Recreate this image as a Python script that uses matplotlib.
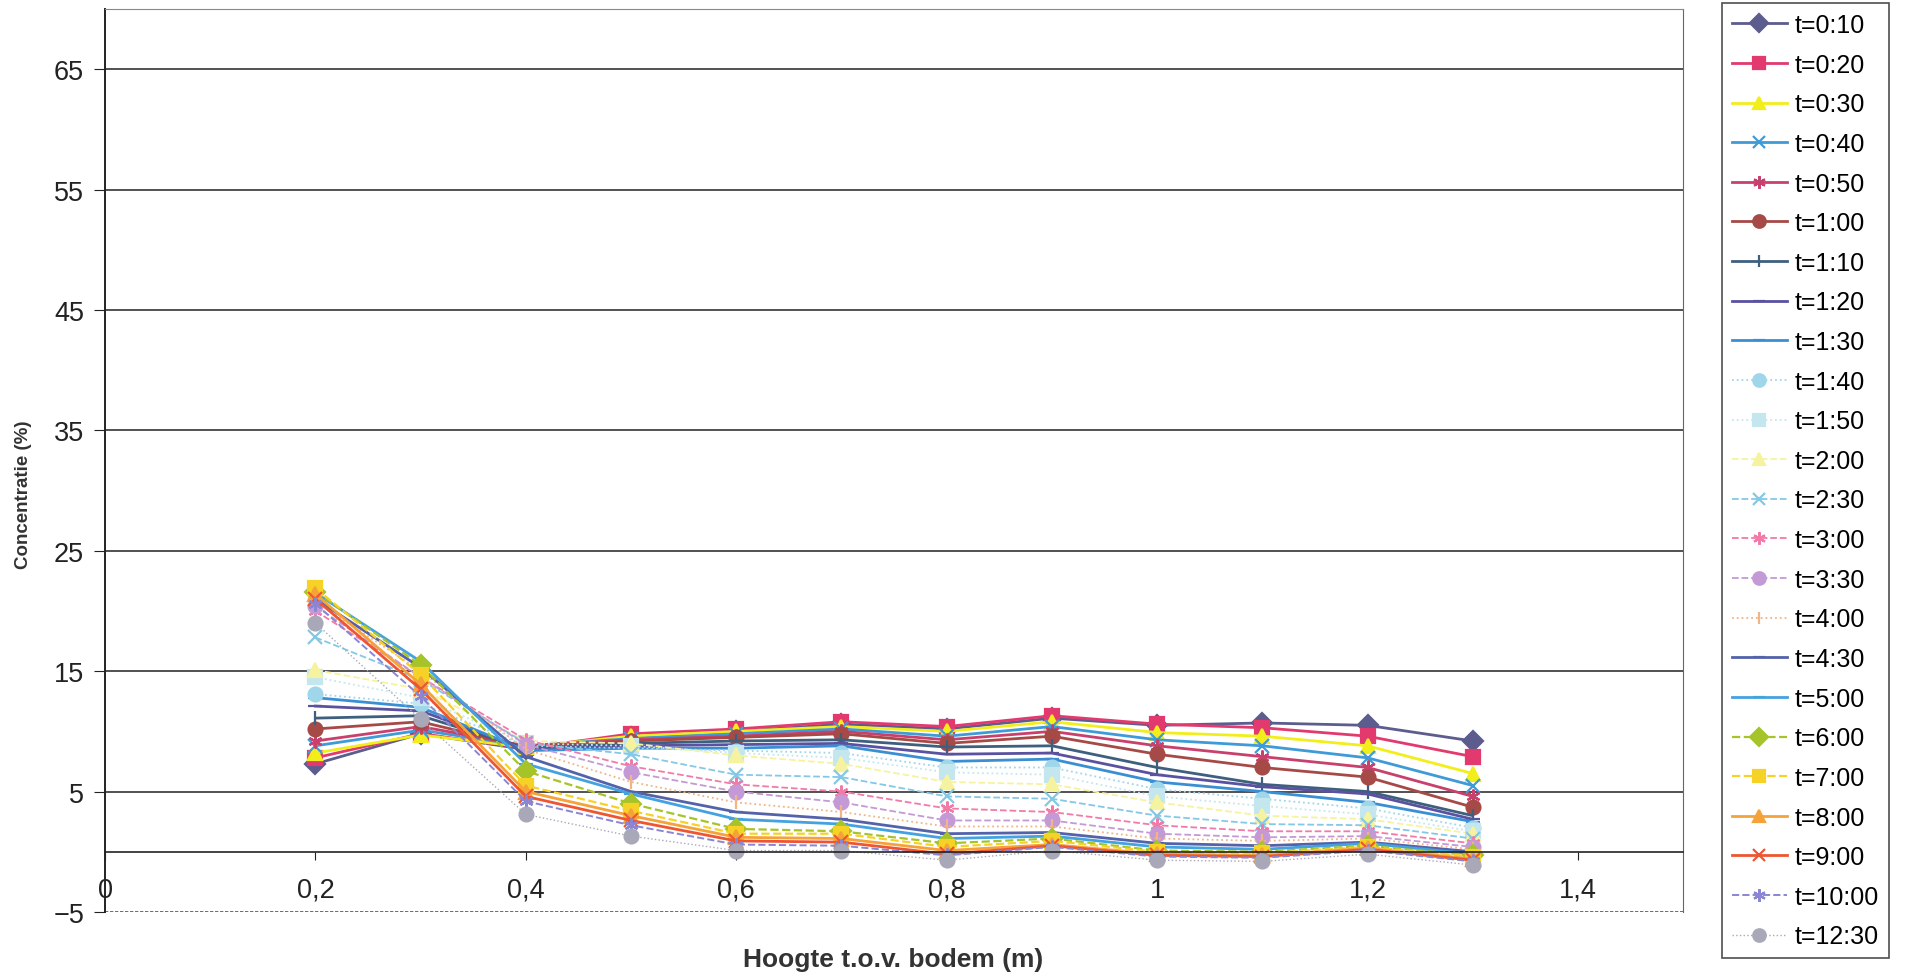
import matplotlib
matplotlib.use("Agg")
import matplotlib.pyplot as plt

plt.rcParams['font.family'] = ['Liberation Sans', 'DejaVu Sans']

# hoogte t.o.v. bodem (m)
hoogte = [0.2, 0.3, 0.4, 0.5, 0.6, 0.7, 0.8, 0.9, 1.0, 1.1, 1.2, 1.3]

tijden = ['t=0:10', 't=0:20', 't=0:30', 't=0:40', 't=0:50', 't=1:00',
          't=1:10', 't=1:20', 't=1:30', 't=1:40', 't=1:50', 't=2:00',
          't=2:30', 't=3:00', 't=3:30', 't=4:00', 't=4:30', 't=5:00',
          't=6:00', 't=7:00', 't=8:00', 't=9:00', 't=10:00', 't=12:30']

# concentratie (%) per tijdstip
c_0010 = [7.3, 9.8, 8.5, 9.5, 10.0, 10.6, 10.2, 11.1, 10.5, 10.7, 10.5, 9.2]
c_0020 = [7.8, 9.8, 8.6, 9.8, 10.2, 10.8, 10.4, 11.3, 10.6, 10.3, 9.6, 7.9]
c_0030 = [8.2, 9.7, 8.7, 9.6, 10.0, 10.4, 10.0, 10.8, 9.9, 9.6, 8.8, 6.5]
c_0040 = [8.8, 10.1, 8.8, 9.4, 9.8, 10.2, 9.6, 10.4, 9.3, 8.8, 7.8, 5.5]
c_0050 = [9.2, 10.4, 8.8, 9.3, 9.6, 10.0, 9.3, 10.0, 8.8, 7.9, 7.0, 4.6]
c_0100 = [10.2, 10.8, 8.7, 9.2, 9.5, 9.8, 9.0, 9.6, 8.1, 7.0, 6.2, 3.7]
c_0110 = [11.1, 11.3, 8.6, 9.0, 9.2, 9.3, 8.7, 8.8, 7.0, 5.6, 5.0, 3.0]
c_0120 = [12.1, 11.7, 8.5, 8.8, 8.9, 9.0, 8.1, 8.2, 6.4, 5.4, 4.8, 2.7]
c_0130 = [12.8, 12.0, 8.4, 8.6, 8.6, 8.8, 7.5, 7.7, 5.8, 5.0, 4.1, 2.5]
c_0140 = [13.1, 12.3, 8.8, 8.6, 8.4, 8.2, 7.0, 7.0, 5.2, 4.4, 3.6, 2.0]
c_0150 = [14.5, 12.8, 9.0, 8.8, 8.2, 7.8, 6.6, 6.4, 4.6, 3.8, 3.1, 1.7]
c_0200 = [15.1, 13.5, 9.2, 9.0, 8.0, 7.3, 5.8, 5.6, 4.1, 3.0, 2.7, 1.5]
c_0230 = [17.8, 14.3, 9.0, 8.1, 6.4, 6.2, 4.6, 4.4, 3.0, 2.3, 2.2, 1.1]
c_0300 = [20.0, 14.5, 9.3, 7.1, 5.6, 5.0, 3.6, 3.3, 2.2, 1.7, 1.7, 0.7]
c_0330 = [20.4, 14.5, 8.9, 6.6, 5.0, 4.1, 2.6, 2.6, 1.5, 1.2, 1.3, 0.4]
c_0400 = [20.8, 15.0, 8.5, 5.8, 4.1, 3.3, 2.1, 2.1, 1.1, 0.9, 1.1, 0.2]
c_0430 = [21.0, 15.3, 7.9, 5.0, 3.3, 2.7, 1.5, 1.6, 0.7, 0.5, 0.8, 0.0]
c_0500 = [21.5, 15.8, 7.3, 4.8, 2.7, 2.3, 1.1, 1.3, 0.4, 0.2, 0.7, -0.2]
c_0600 = [21.6, 15.5, 6.7, 4.0, 1.9, 1.7, 0.7, 1.1, 0.1, 0.0, 0.5, -0.3]
c_0700 = [21.9, 14.7, 5.5, 3.4, 1.5, 1.5, 0.4, 0.9, 0.0, -0.1, 0.4, -0.4]
c_0800 = [21.4, 13.9, 5.0, 3.0, 1.2, 1.1, 0.1, 0.6, -0.2, -0.3, 0.3, -0.6]
c_0900 = [21.0, 13.5, 4.6, 2.6, 0.9, 0.8, -0.2, 0.5, -0.3, -0.4, 0.2, -0.7]
c_1000 = [20.6, 12.9, 4.2, 2.2, 0.6, 0.5, -0.3, 0.4, -0.4, -0.5, 0.1, -0.8]
c_1230 = [19.0, 11.0, 3.1, 1.3, 0.1, 0.1, -0.7, 0.1, -0.7, -0.8, -0.2, -1.1]

reeksen = [c_0010, c_0020, c_0030, c_0040, c_0050, c_0100, c_0110, c_0120,
           c_0130, c_0140, c_0150, c_0200, c_0230, c_0300, c_0330, c_0400,
           c_0430, c_0500, c_0600, c_0700, c_0800, c_0900, c_1000, c_1230]

kleuren = ['#5c5c8e', '#e23a6e', '#f2ee1c', '#3f9ad8', '#c8406c', '#a54a46',
           '#3e5f7e', '#5a52a0', '#3a8fd4', '#9fd6ea', '#c4e6ef', '#f6f3a0',
           '#84c8e6', '#f27aa8', '#c49ad6', '#f0b486', '#5462aa', '#44a2e0',
           '#a6c42a', '#f6d226', '#f6a23a', '#ee5632', '#8a86d4', '#a8a8b8']

asterisk = (6, 2, 0)
markers = ['D', 's', '^', 'x', asterisk, 'o', '|', '_', '_', 'o', 's', '^',
           'x', asterisk, 'o', '|', '_', '_', 'D', 's', '^', 'x', asterisk, 'o']

stijlen = ['-'] * 9 + [':', ':', '--', '--', '--', '--', ':', '-', '-',
                       '--', '--', '-', '-', '--', ':']
dikte = [2.0] * 9 + [1.3] * 7 + [2.0, 2.0, 1.6, 1.6, 2.0, 2.0, 1.4, 1.0]

fig = plt.figure(figsize=(19.06, 9.78), dpi=100)
ax = fig.add_axes([0.0551, 0.0665, 0.828, 0.9233])

for waarden, naam, kl, mk, ls, lw in zip(reeksen, tijden, kleuren, markers, stijlen, dikte):
    ax.plot(hoogte, waarden, linestyle=ls, linewidth=lw, color=kl, marker=mk,
            markersize=10, markeredgewidth=1.6, label=naam)

ax.set_xlim(0, 1.5)
ax.set_ylim(-5, 70)
ax.set_yticks(range(-5, 70, 10))
ax.set_xticks([0, 0.2, 0.4, 0.6, 0.8, 1.0, 1.2, 1.4])
ax.set_xticklabels(['0', '0,2', '0,4', '0,6', '0,8', '1', '1,2', '1,4'])

for y in range(5, 70, 10):
    ax.axhline(y, color='#222222', linewidth=1.1, zorder=0)
ax.axhline(-5, color='#555555', linewidth=1.2, linestyle=(0, (2, 1)), zorder=0)

ax.spines['bottom'].set_position(('data', 0))
ax.spines['bottom'].set_color('#222222')
ax.spines['bottom'].set_linewidth(1.2)
ax.spines['left'].set_color('#222222')
ax.spines['left'].set_linewidth(1.4)
ax.spines['top'].set_color('#888888')
ax.spines['top'].set_linestyle((0, (2, 1)))
ax.spines['right'].set_color('#666666')

ax.tick_params(axis='x', direction='out', length=6, pad=12, labelsize=19.5,
               colors='#222222')
ax.tick_params(axis='y', direction='out', length=8, pad=7, labelsize=19.5,
               colors='#222222')

fig.text(24 / 1906, 1 - 495 / 978, 'Concentratie (%)', rotation=90,
         ha='center', va='center', fontsize=13.5, fontweight='bold', color='#333333')
fig.text(893 / 1906, 1 - 960 / 978, 'Hoogte t.o.v. bodem (m)',
         ha='center', va='center', fontsize=19, fontweight='bold', color='#333333')

leg = fig.legend(loc='upper left', bbox_to_anchor=(1722 / 1906, 1 - 4 / 978),
                 fontsize=18, frameon=True, fancybox=False, edgecolor='#222222',
                 handlelength=2.2, handletextpad=0.3, labelspacing=0.625,
                 borderpad=0.4, markerscale=0.9, borderaxespad=0)
leg.get_frame().set_linewidth(1.2)

fig.savefig('out.png', dpi=100)
